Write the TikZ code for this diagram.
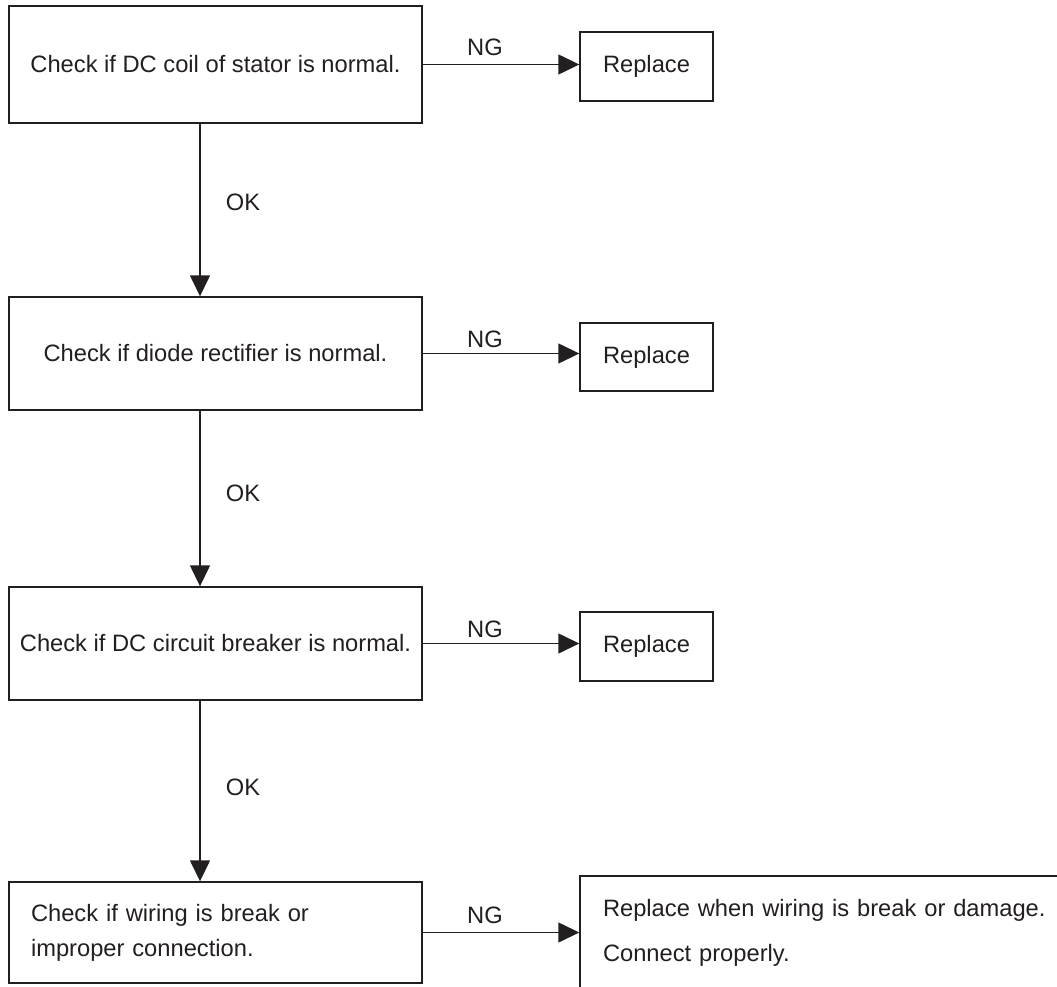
\documentclass[tikz,border=0pt]{standalone}
\usepackage{fontspec}
\setmainfont{Liberation Sans}
\usetikzlibrary{arrows.meta}
\definecolor{ink}{HTML}{231F20}
\begin{document}
\begin{tikzpicture}[x=1pt,y=-1pt,
  every node/.style={text=ink},
  font=\fontsize{23.7}{28}\selectfont,
  box/.style={draw=ink, line width=1.4pt, inner sep=0pt, align=center},
  flow/.style={draw=ink, line width=1.4pt, -{Triangle[length=21pt,width=20pt]}},
  lbl/.style={inner sep=0pt}]
\path[use as bounding box, fill=white] (0,0) rectangle (1057,987);
\coordinate (vx) at (200,0);
% main checks
\node[box, minimum width=413pt, minimum height=117pt] (b1) at (215.5,64.5) {Check if DC coil of stator is normal.};
\node[box, minimum width=413pt, minimum height=113pt] (b2) at (215.5,353.5) {Check if diode rectifier is normal.};
\node[box, minimum width=413pt, minimum height=113pt] (b3) at (215.5,643.5) {Check if DC circuit breaker is normal.};
\node[box, minimum width=413pt, minimum height=101pt, inner xsep=22pt, text width=369pt, align=left,
      font=\fontsize{23.7}{35}\selectfont] (b4) at (215.5,932.5) {Check if wiring is break or\\improper connection.};
% outcomes
\node[box, minimum width=133pt, minimum height=69pt] (r1) at (646.5,66.5) {Replace};
\node[box, minimum width=133pt, minimum height=68pt] (r2) at (646.5,357) {Replace};
\node[box, minimum width=133pt, minimum height=69pt] (r3) at (646.5,646.5) {Replace};
\node[box, minimum width=490pt, minimum height=113pt, inner xsep=23pt, text width=444pt, align=left,
      font=\fontsize{23.7}{45}\selectfont] (r4) at (825,932.5) {Replace when wiring is break or damage.\\Connect properly.};
% NG connectors
\draw[flow] (b1.east) -- (b1.east -| r1.west);
\draw[flow] (b2.east) -- (b2.east -| r2.west);
\draw[flow] (b3.east) -- (b3.east -| r3.west);
\draw[flow] (b4.east) -- (b4.east -| r4.west);
% OK connectors
\draw[flow] (b1.south -| vx) -- (b2.north -| vx);
\draw[flow] (b2.south -| vx) -- (b3.north -| vx);
\draw[flow] (b3.south -| vx) -- (b4.north -| vx);
% labels
\node[lbl] (ng1) at (485,47) {NG};
\node[lbl] (ng2) at (485,339) {NG};
\node[lbl] (ng3) at (485,629) {NG};
\node[lbl] (ng4) at (485,915) {NG};
\node[lbl] (ok1) at (243,202) {OK};
\node[lbl] (ok2) at (243,493) {OK};
\node[lbl] (ok3) at (243,787) {OK};
\end{tikzpicture}
\end{document}
